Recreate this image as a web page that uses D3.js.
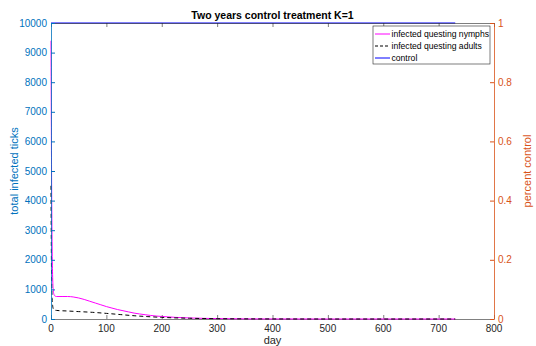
<!DOCTYPE html>
<html>
<head>
<meta charset="utf-8">
<script src="https://cdn.jsdelivr.net/npm/d3@7"></script>
<style>
body { margin: 0; background: #fff; }
text { font-family: "Liberation Sans", Arial, sans-serif; }
</style>
</head>
<body>
<svg width="536" height="346"></svg>
<script>
var width = 536;
var height = 346;
var margin = {top: 23, right: 42, bottom: 27, left: 51};

// infected questing nymphs
var nymphDays = [0, 1, 2, 3, 4, 5, 7, 10, 20, 30, 40, 50, 60, 70, 80, 90, 100, 110, 120, 130, 140, 150, 160, 170, 180, 190, 200, 225, 250, 275, 300, 350, 400, 500, 730];
var nymphValues = [9400, 5000, 2500, 1400, 1000, 850, 780, 760, 760, 760, 745, 710, 660, 600, 540, 480, 420, 370, 320, 280, 240, 200, 170, 145, 120, 100, 85, 55, 35, 22, 14, 5, 2, 0, 0];

// infected questing adults
var adultDays = [0, 1, 2, 3, 4, 5, 10, 30, 50, 75, 100, 125, 150, 175, 200, 250, 300, 400, 500, 730];
var adultValues = [4500, 1500, 700, 450, 350, 310, 290, 270, 250, 225, 190, 150, 110, 80, 55, 25, 10, 2, 0, 0];

// control (right axis)
var controlDays = [0, 730];
var controlValues = [1, 1];

var xTicks = [0, 100, 200, 300, 400, 500, 600, 700, 800];
var yLeftTicks = [0, 1000, 2000, 3000, 4000, 5000, 6000, 7000, 8000, 9000, 10000];
var yRightTicks = [0, 0.2, 0.4, 0.6, 0.8, 1];

var blue = "#0072bd";
var orange = "#d95319";
var grey = "#262626";

var x0 = margin.left, x1 = width - margin.right;
var y0 = height - margin.bottom, y1 = margin.top;

var xScale = d3.scaleLinear().domain([0, 800]).range([x0, x1]);
var yLeft = d3.scaleLinear().domain([0, 10000]).range([y0, y1]);
var yRight = d3.scaleLinear().domain([0, 1]).range([y0, y1]);

var svg = d3.select("svg");

// lines
var nymphLine = d3.line()
    .x((d, i) => xScale(nymphDays[i]))
    .y(d => yLeft(d))
    .curve(d3.curveMonotoneX);
var adultLine = d3.line()
    .x((d, i) => xScale(adultDays[i]))
    .y(d => yLeft(d))
    .curve(d3.curveMonotoneX);
var controlLine = d3.line()
    .x((d, i) => xScale(controlDays[i]))
    .y(d => yRight(d));

// bottom axis
svg.append("g")
    .attr("transform", "translate(0," + y0 + ")")
    .call(d3.axisTop(xScale).tickValues(xTicks).tickSize(4).tickSizeOuter(0).tickFormat(""))
    .call(g => g.select(".domain").attr("stroke", "#808080").attr("stroke-width", 1))
    .call(g => g.selectAll(".tick line").attr("stroke", grey).attr("stroke-width", 0.6));

svg.append("path")
    .datum(nymphValues)
    .attr("fill", "none")
    .attr("stroke", "#ff00ff")
    .attr("stroke-width", 1)
    .attr("d", nymphLine);
svg.append("path")
    .datum(adultValues)
    .attr("fill", "none")
    .attr("stroke", "#000")
    .attr("stroke-width", 1)
    .attr("stroke-dasharray", "4,3")
    .attr("d", adultLine);
svg.append("path")
    .datum(controlValues)
    .attr("fill", "none")
    .attr("stroke", "#0000ff")
    .attr("stroke-width", 1)
    .attr("d", controlLine);

// top border with ticks, drawn over the control line
svg.append("g")
    .attr("transform", "translate(0," + y1 + ")")
    .call(d3.axisBottom(xScale).tickValues(xTicks).tickSize(4).tickSizeOuter(0).tickFormat(""))
    .call(g => g.select(".domain").attr("stroke", grey).attr("stroke-opacity", 0.6).attr("stroke-width", 1))
    .call(g => g.selectAll(".tick line").attr("stroke", grey).attr("stroke-width", 0.6));

// x tick labels
svg.append("g")
    .selectAll("text")
    .data(xTicks)
    .enter()
    .append("text")
    .attr("x", d => xScale(d))
    .attr("y", y0 + 13)
    .attr("text-anchor", "middle")
    .attr("font-size", 10)
    .attr("fill", grey)
    .text(d => d);

// left axis
svg.append("g")
    .attr("transform", "translate(" + x0 + ",0)")
    .call(d3.axisRight(yLeft).tickValues(yLeftTicks).tickSize(4).tickSizeOuter(0).tickFormat(""))
    .call(g => g.select(".domain").attr("stroke", blue).attr("stroke-width", 0.8))
    .call(g => g.selectAll(".tick line").attr("stroke", blue));
svg.append("g")
    .selectAll("text")
    .data(yLeftTicks)
    .enter()
    .append("text")
    .attr("x", x0 - 4)
    .attr("y", d => yLeft(d) + 3.5)
    .attr("text-anchor", "end")
    .attr("font-size", 10)
    .attr("fill", blue)
    .text(d => d);

// right axis
svg.append("g")
    .attr("transform", "translate(" + x1 + ",0)")
    .call(d3.axisLeft(yRight).tickValues(yRightTicks).tickSize(4).tickSizeOuter(0).tickFormat(""))
    .call(g => g.select(".domain").attr("stroke", orange).attr("stroke-width", 0.8))
    .call(g => g.selectAll(".tick line").attr("stroke", orange));
svg.append("g")
    .selectAll("text")
    .data(yRightTicks)
    .enter()
    .append("text")
    .attr("x", x1 + 4)
    .attr("y", d => yRight(d) + 3.5)
    .attr("text-anchor", "start")
    .attr("font-size", 10)
    .attr("fill", orange)
    .text(d => d);

// axis labels and title
svg.append("text")
    .attr("x", (x0 + x1) / 2)
    .attr("y", height - 2)
    .attr("text-anchor", "middle")
    .attr("font-size", 11)
    .attr("fill", grey)
    .text("day");
svg.append("text")
    .attr("transform", "rotate(-90)")
    .attr("x", -(y0 + y1) / 2)
    .attr("y", 18)
    .attr("text-anchor", "middle")
    .attr("font-size", 11)
    .attr("fill", blue)
    .text("total infected ticks");
svg.append("text")
    .attr("transform", "rotate(-90)")
    .attr("x", -(y0 + y1) / 2)
    .attr("y", width - 5)
    .attr("text-anchor", "middle")
    .attr("font-size", 11)
    .attr("fill", orange)
    .text("percent control");
svg.append("text")
    .attr("x", (x0 + x1) / 2)
    .attr("y", y1 - 4)
    .attr("text-anchor", "middle")
    .attr("font-size", 10.5)
    .attr("font-weight", "bold")
    .attr("fill", "#000")
    .text("Two years control treatment K=1");

// legend
var legendNames = ["infected questing nymphs", "infected questing adults", "control"];
var legendColors = ["#ff00ff", "#000", "#0000ff"];
var legendDash = [null, "3,2", null];
var legend = svg.append("g").attr("transform", "translate(373,26)");
legend.append("rect")
    .attr("width", 117)
    .attr("height", 38)
    .attr("fill", "#fff")
    .attr("stroke", grey)
    .attr("stroke-width", 0.6);
legendNames.forEach(function (name, i) {
    var ly = 8 + i * 12;
    legend.append("line")
        .attr("x1", 2).attr("x2", 17)
        .attr("y1", ly).attr("y2", ly)
        .attr("stroke", legendColors[i])
        .attr("stroke-dasharray", legendDash[i]);
    legend.append("text")
        .attr("x", 18.5)
        .attr("y", ly + 3.2)
        .attr("font-size", 8.6)
        .attr("fill", "#000")
        .text(name);
});
</script>
</body>
</html>
